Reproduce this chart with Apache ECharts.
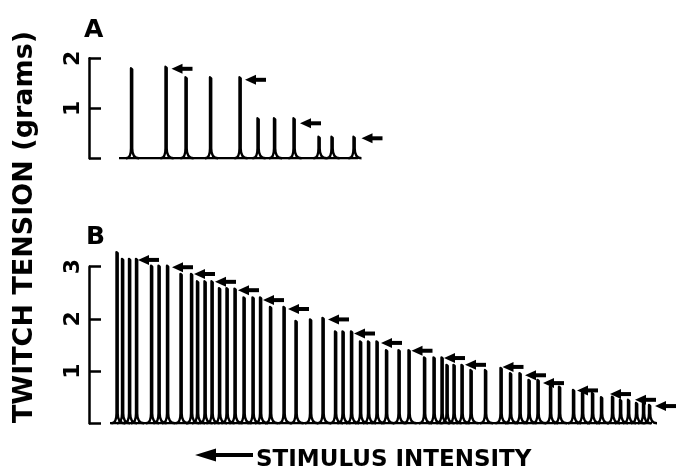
<!DOCTYPE html>
<html>
<head>
<meta charset="utf-8">
<script src="https://cdn.jsdelivr.net/npm/echarts@6/dist/echarts.min.js"></script>
<style>
  html, body { margin: 0; padding: 0; background: #fff; }
  #chart { width: 684px; height: 471px; }
</style>
</head>
<body>
<div id="chart"></div>
<script>
// time in arbitrary units (same scale for both records), tension in grams
const panelASpikeTimes = [8.4, 15.3, 19.3, 24.2, 30.1, 33.7, 37.0, 40.9, 45.9, 48.5, 52.9]
const panelASpikePeaks = [1.80, 1.83, 1.62, 1.62, 1.62, 0.80, 0.80, 0.80, 0.43, 0.43, 0.43]
const panelAArrowTimes = [16.5, 31.2, 42.2, 54.5]
const panelAArrowLevels = [1.79, 1.57, 0.70, 0.40]
const panelABaseline = [6.0, 53.8]
const panelATicks = [0, 1, 2]

const panelBSpikeTimes = [5.5, 6.6, 8.0, 9.4, 12.4, 13.9, 15.6, 18.3, 20.4, 21.6, 23.1, 24.5, 26.0, 27.5, 29.1,
  30.9, 32.7, 34.2, 36.2, 38.9, 41.3, 44.2, 46.7, 49.2, 50.7, 52.4, 54.2, 55.8, 57.5, 59.4, 61.9, 63.9,
  67.0, 68.9, 70.5, 71.5, 72.9, 74.5, 76.3, 79.2, 82.3, 84.2, 86.1, 87.9, 89.7, 92.2, 94.0, 96.8, 98.6,
  100.6, 102.4, 104.6, 106.2, 107.8, 109.4, 110.8, 112.0]
const panelBSpikePeaks = [3.28, 3.15, 3.15, 3.15, 3.02, 3.02, 3.02, 2.86, 2.86, 2.72, 2.72, 2.72, 2.59, 2.59, 2.58,
  2.41, 2.41, 2.41, 2.23, 2.23, 1.96, 1.99, 2.02, 1.76, 1.76, 1.76, 1.57, 1.57, 1.57, 1.40, 1.40, 1.40,
  1.26, 1.26, 1.26, 1.12, 1.12, 1.12, 1.02, 1.02, 1.06, 0.96, 0.96, 0.83, 0.83, 0.70, 0.70, 0.64, 0.58,
  0.58, 0.50, 0.51, 0.45, 0.45, 0.39, 0.39, 0.35]
const panelBArrowTimes = [9.8, 16.6, 21.0, 25.2, 29.8, 34.8, 39.8, 47.8, 53.0, 58.4, 64.5, 71.0, 75.2, 82.7,
  87.2, 90.8, 97.6, 104.2, 109.2, 113.2]
const panelBArrowLevels = [3.13, 2.99, 2.86, 2.71, 2.55, 2.36, 2.19, 1.99, 1.72, 1.54, 1.39, 1.25, 1.12, 1.08,
  0.92, 0.77, 0.63, 0.56, 0.45, 0.33]
const panelBBaseline = [4.2, 112.6]
const panelBTicks = [0, 1, 2, 3]

const INK = '#000'
const zip = (a, b) => a.map((v, i) => [v, b[i]])

// one twitch: sharp rise, sharp fall, curled tail into the baseline
function renderTwitch (params, api) {
  const top = api.coord([api.value(0), api.value(1)])
  const base = api.coord([api.value(0), 0])
  const X = top[0]
  const Y = top[1]
  const B = base[1]
  const d = 'M' + (X - 5) + ' ' + B +
    ' C' + (X - 1) + ' ' + B + ' ' + X + ' ' + (B - 4) + ' ' + X + ' ' + (B - 10) +
    ' L' + X + ' ' + Y +
    ' L' + (X + 1.2) + ' ' + (Y + 1) +
    ' L' + (X + 1.2) + ' ' + (B - 10) +
    ' C' + (X + 1.2) + ' ' + (B - 2) + ' ' + (X + 4) + ' ' + B + ' ' + (X + 8) + ' ' + B
  return {
    type: 'path',
    shape: { pathData: d },
    style: { fill: 'none', stroke: INK, lineWidth: 2.4, lineJoin: 'round' }
  }
}

// left pointing arrow, tip at the data point
function renderArrow (params, api) {
  const p = api.coord([api.value(0), api.value(1)])
  const X = p[0]
  const Y = p[1]
  return {
    type: 'group',
    children: [
      { type: 'polygon', shape: { points: [[X, Y], [X + 11, Y - 5], [X + 11, Y + 5]] }, style: { fill: INK } },
      { type: 'rect', shape: { x: X + 10, y: Y - 2, width: 11, height: 4 }, style: { fill: INK } }
    ]
  }
}

function yAxisFor (gridIndex, ticks) {
  return {
    type: 'value',
    gridIndex,
    min: ticks[0],
    max: ticks[ticks.length - 1],
    interval: 1,
    splitLine: { show: false },
    axisLine: { show: true, lineStyle: { color: INK, width: 2.5 } },
    axisTick: { show: true, inside: true, length: 12, lineStyle: { color: INK, width: 2.5 } },
    axisLabel: {
      rotate: 90,
      margin: 16,
      align: 'center',
      verticalAlign: 'middle',
      color: INK,
      fontSize: 22,
      fontWeight: 'bold',
      fontFamily: 'DejaVu Sans',
      formatter: v => (v === 0 ? '' : String(v))
    }
  }
}

const chart = echarts.init(document.getElementById('chart'), null, { renderer: 'canvas' })

chart.setOption({
  backgroundColor: '#fff',
  animation: false,
  grid: [
    { left: 89, top: 58.3, width: 590, height: 100 },
    { left: 89, top: 266.7, width: 590, height: 156.6 }
  ],
  xAxis: [
    { type: 'value', gridIndex: 0, min: 0, max: 118, show: false },
    { type: 'value', gridIndex: 1, min: 0, max: 118, show: false }
  ],
  yAxis: [yAxisFor(0, panelATicks), yAxisFor(1, panelBTicks)],
  series: [
    {
      type: 'line', xAxisIndex: 0, yAxisIndex: 0, symbol: 'none',
      data: panelABaseline.map(t => [t, 0]),
      lineStyle: { color: INK, width: 2.4 }
    },
    {
      type: 'custom', xAxisIndex: 0, yAxisIndex: 0,
      data: zip(panelASpikeTimes, panelASpikePeaks),
      renderItem: renderTwitch
    },
    {
      type: 'custom', xAxisIndex: 0, yAxisIndex: 0,
      data: zip(panelAArrowTimes, panelAArrowLevels),
      renderItem: renderArrow
    },
    {
      type: 'line', xAxisIndex: 1, yAxisIndex: 1, symbol: 'none',
      data: panelBBaseline.map(t => [t, 0]),
      lineStyle: { color: INK, width: 2.4 }
    },
    {
      type: 'custom', xAxisIndex: 1, yAxisIndex: 1,
      data: zip(panelBSpikeTimes, panelBSpikePeaks),
      renderItem: renderTwitch
    },
    {
      type: 'custom', xAxisIndex: 1, yAxisIndex: 1,
      data: zip(panelBArrowTimes, panelBArrowLevels),
      renderItem: renderArrow
    }
  ],
  graphic: [
    {
      type: 'text', x: 84, y: 18,
      style: { text: 'A', fill: INK, font: 'bold 25px "DejaVu Sans"', textAlign: 'left', textVerticalAlign: 'top' }
    },
    {
      type: 'text', x: 86, y: 225,
      style: { text: 'B', fill: INK, font: 'bold 25px "DejaVu Sans"', textAlign: 'left', textVerticalAlign: 'top' }
    },
    {
      type: 'text', x: 25, y: 227, rotation: Math.PI / 2,
      style: { text: 'TWITCH TENSION (grams)', fill: INK, font: 'bold 27px "DejaVu Sans"', textAlign: 'center', textVerticalAlign: 'middle' }
    },
    {
      type: 'text', x: 256, y: 460,
      style: { text: 'STIMULUS INTENSITY', fill: INK, font: 'bold 23px "DejaVu Sans"', textAlign: 'left', textVerticalAlign: 'middle' }
    },
    {
      type: 'polygon',
      shape: { points: [[195, 455], [216, 448.5], [216, 453], [253, 453], [253, 457], [216, 457], [216, 461.5]] },
      style: { fill: INK }
    }
  ]
})
</script>
</body>
</html>
